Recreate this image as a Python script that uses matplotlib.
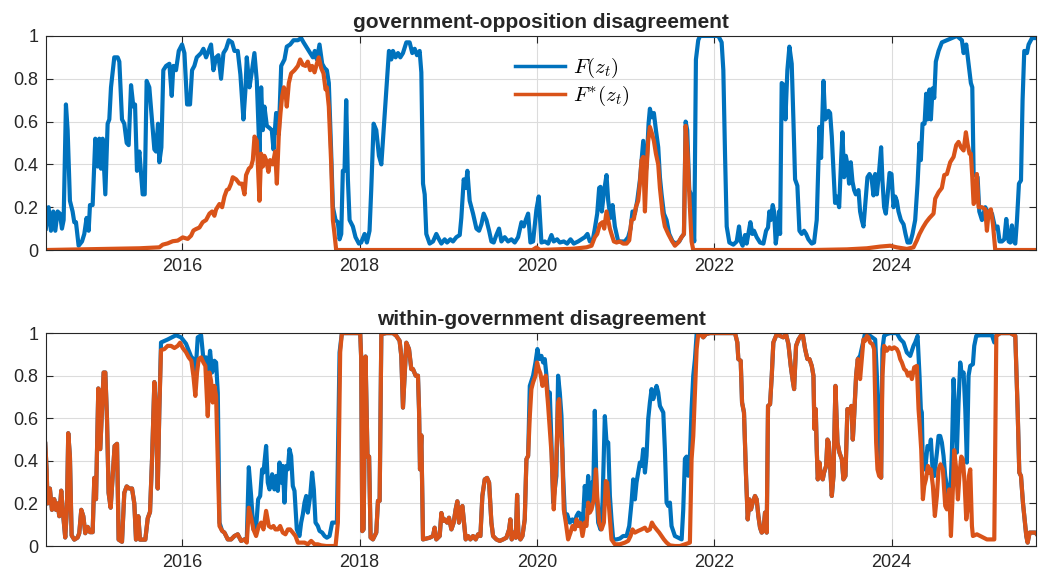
import numpy as np
import matplotlib
matplotlib.use("Agg")
import matplotlib.pyplot as plt

# === (decimal year, value) pairs

# government-opposition disagreement, F(z_t)
gov_opp_f = np.array([
    (2014.464, 0.10), (2014.494, 0.20), (2014.521, 0.09), (2014.547, 0.18), (2014.570, 0.09),
    (2014.596, 0.18), (2014.622, 0.17), (2014.645, 0.10), (2014.664, 0.14), (2014.690, 0.68),
    (2014.709, 0.56), (2014.735, 0.23), (2014.765, 0.18), (2014.784, 0.13), (2014.803, 0.13),
    (2014.833, 0.02), (2014.871, 0.04), (2014.897, 0.075), (2014.923, 0.15), (2014.946, 0.09),
    (2014.961, 0.21), (2014.991, 0.21), (2015.021, 0.52), (2015.047, 0.39), (2015.066, 0.52),
    (2015.085, 0.38), (2015.104, 0.52), (2015.134, 0.26), (2015.160, 0.59), (2015.179, 0.61),
    (2015.198, 0.76), (2015.235, 0.90), (2015.273, 0.90), (2015.292, 0.88), (2015.322, 0.61),
    (2015.348, 0.59), (2015.375, 0.50), (2015.397, 0.49), (2015.424, 0.77), (2015.450, 0.67),
    (2015.469, 0.68), (2015.491, 0.37), (2015.518, 0.46), (2015.536, 0.36), (2015.555, 0.26),
    (2015.578, 0.26), (2015.600, 0.79), (2015.630, 0.76), (2015.657, 0.62), (2015.687, 0.47),
    (2015.706, 0.46), (2015.728, 0.59), (2015.743, 0.41), (2015.766, 0.48), (2015.788, 0.84),
    (2015.819, 0.86), (2015.856, 0.87), (2015.883, 0.72), (2015.901, 0.86), (2015.931, 0.84),
    (2015.962, 0.93), (2015.999, 0.96), (2016.026, 0.92), (2016.056, 0.68), (2016.089, 0.68),
    (2016.112, 0.84), (2016.138, 0.86), (2016.165, 0.90), (2016.214, 0.92), (2016.240, 0.94),
    (2016.270, 0.90), (2016.289, 0.92), (2016.326, 0.96), (2016.353, 0.84), (2016.383, 0.90),
    (2016.409, 0.91), (2016.439, 0.80), (2016.466, 0.92), (2016.496, 0.94), (2016.526, 0.98),
    (2016.563, 0.97), (2016.590, 0.93), (2016.627, 0.93), (2016.657, 0.82), (2016.691, 0.61),
    (2016.714, 0.75), (2016.729, 0.90), (2016.759, 0.76), (2016.785, 0.83), (2016.815, 0.92),
    (2016.842, 0.79), (2016.872, 0.45), (2016.891, 0.76), (2016.910, 0.56), (2016.928, 0.67),
    (2016.955, 0.58), (2016.985, 0.57), (2017.011, 0.56), (2017.030, 0.47), (2017.060, 0.64),
    (2017.090, 0.54), (2017.117, 0.86), (2017.154, 0.89), (2017.180, 0.95), (2017.218, 0.96),
    (2017.256, 0.98), (2017.305, 0.98), (2017.342, 0.99), (2017.369, 0.97), (2017.399, 0.95),
    (2017.444, 0.92), (2017.474, 0.90), (2017.496, 0.93), (2017.519, 0.89), (2017.549, 0.96),
    (2017.579, 0.87), (2017.606, 0.85), (2017.632, 0.84), (2017.654, 0.78), (2017.681, 0.45),
    (2017.700, 0.20), (2017.730, 0.14), (2017.756, 0.13), (2017.775, 0.05), (2017.794, 0.075),
    (2017.812, 0.37), (2017.831, 0.37), (2017.850, 0.70), (2017.869, 0.33), (2017.888, 0.14),
    (2017.925, 0.11), (2017.955, 0.06), (2017.993, 0.03), (2018.019, 0.035), (2018.057, 0.075),
    (2018.083, 0.035), (2018.113, 0.09), (2018.132, 0.28), (2018.159, 0.59), (2018.189, 0.56),
    (2018.219, 0.44), (2018.246, 0.40), (2018.272, 0.56), (2018.302, 0.75), (2018.332, 0.93),
    (2018.358, 0.89), (2018.377, 0.93), (2018.407, 0.90), (2018.434, 0.92), (2018.460, 0.90),
    (2018.490, 0.92), (2018.528, 0.97), (2018.565, 0.97), (2018.595, 0.92), (2018.622, 0.94),
    (2018.648, 0.91), (2018.678, 0.93), (2018.697, 0.83), (2018.716, 0.31), (2018.735, 0.26),
    (2018.753, 0.075), (2018.791, 0.03), (2018.829, 0.04), (2018.866, 0.075), (2018.896, 0.05),
    (2018.923, 0.03), (2018.960, 0.05), (2018.987, 0.035), (2019.024, 0.05), (2019.054, 0.04),
    (2019.092, 0.06), (2019.130, 0.07), (2019.148, 0.15), (2019.175, 0.33), (2019.197, 0.29),
    (2019.216, 0.37), (2019.242, 0.23), (2019.280, 0.17), (2019.318, 0.10), (2019.348, 0.09),
    (2019.374, 0.12), (2019.400, 0.17), (2019.431, 0.14), (2019.461, 0.09), (2019.487, 0.04),
    (2019.513, 0.035), (2019.543, 0.07), (2019.573, 0.10), (2019.600, 0.04), (2019.637, 0.06),
    (2019.675, 0.04), (2019.713, 0.05), (2019.750, 0.035), (2019.788, 0.06), (2019.826, 0.13),
    (2019.852, 0.11), (2019.874, 0.14), (2019.901, 0.17), (2019.927, 0.035), (2019.957, 0.04),
    (2019.995, 0.19), (2020.021, 0.25), (2020.051, 0.035), (2020.089, 0.04), (2020.127, 0.03),
    (2020.164, 0.07), (2020.190, 0.04), (2020.228, 0.05), (2020.258, 0.035), (2020.303, 0.04),
    (2020.341, 0.03), (2020.379, 0.05), (2020.416, 0.03), (2020.465, 0.04), (2020.503, 0.05),
    (2020.540, 0.06), (2020.570, 0.075), (2020.597, 0.04), (2020.627, 0.04), (2020.653, 0.10),
    (2020.680, 0.17), (2020.702, 0.29), (2020.717, 0.295), (2020.732, 0.18), (2020.759, 0.28),
    (2020.785, 0.35), (2020.804, 0.23), (2020.830, 0.15), (2020.853, 0.21), (2020.879, 0.11),
    (2020.917, 0.04), (2020.954, 0.04), (2020.992, 0.04), (2021.029, 0.06), (2021.056, 0.10),
    (2021.078, 0.18), (2021.105, 0.17), (2021.131, 0.23), (2021.161, 0.325), (2021.180, 0.42),
    (2021.199, 0.51), (2021.218, 0.34), (2021.236, 0.39), (2021.259, 0.59), (2021.274, 0.66),
    (2021.297, 0.62), (2021.319, 0.64), (2021.342, 0.56), (2021.368, 0.48), (2021.387, 0.34),
    (2021.406, 0.26), (2021.432, 0.17), (2021.462, 0.14), (2021.492, 0.075), (2021.530, 0.04),
    (2021.567, 0.03), (2021.605, 0.04), (2021.631, 0.06), (2021.658, 0.075), (2021.677, 0.60),
    (2021.695, 0.56), (2021.718, 0.28), (2021.737, 0.26), (2021.755, 0.12), (2021.774, 0.04),
    (2021.793, 0.89), (2021.819, 0.98), (2021.839, 1.00), (2021.914, 1.00), (2021.989, 1.00),
    (2022.046, 1.00), (2022.083, 0.97), (2022.102, 0.84), (2022.121, 0.45), (2022.140, 0.11),
    (2022.170, 0.035), (2022.215, 0.025), (2022.253, 0.04), (2022.279, 0.11), (2022.298, 0.04),
    (2022.320, 0.02), (2022.347, 0.07), (2022.365, 0.03), (2022.384, 0.075), (2022.407, 0.13),
    (2022.429, 0.075), (2022.448, 0.09), (2022.478, 0.06), (2022.516, 0.035), (2022.554, 0.03),
    (2022.584, 0.09), (2022.606, 0.105), (2022.621, 0.18), (2022.636, 0.14), (2022.659, 0.21),
    (2022.674, 0.18), (2022.693, 0.03), (2022.711, 0.09), (2022.730, 0.18), (2022.742, 0.075),
    (2022.760, 0.78), (2022.787, 0.77), (2022.802, 0.61), (2022.824, 0.84), (2022.847, 0.95),
    (2022.873, 0.87), (2022.892, 0.61), (2022.911, 0.33), (2022.937, 0.30), (2022.960, 0.09),
    (2022.986, 0.075), (2023.012, 0.09), (2023.035, 0.075), (2023.061, 0.05), (2023.099, 0.03),
    (2023.125, 0.035), (2023.155, 0.14), (2023.186, 0.575), (2023.204, 0.43), (2023.231, 0.79),
    (2023.250, 0.61), (2023.268, 0.62), (2023.287, 0.65), (2023.306, 0.64), (2023.325, 0.53),
    (2023.344, 0.37), (2023.362, 0.22), (2023.381, 0.25), (2023.408, 0.20), (2023.430, 0.42),
    (2023.445, 0.55), (2023.464, 0.34), (2023.483, 0.44), (2023.501, 0.40), (2023.520, 0.31),
    (2023.539, 0.41), (2023.558, 0.32), (2023.577, 0.28), (2023.596, 0.26), (2023.626, 0.28),
    (2023.644, 0.18), (2023.663, 0.14), (2023.682, 0.11), (2023.705, 0.23), (2023.727, 0.34),
    (2023.750, 0.355), (2023.772, 0.34), (2023.795, 0.255), (2023.814, 0.355), (2023.833, 0.26),
    (2023.859, 0.37), (2023.881, 0.48), (2023.896, 0.325), (2023.915, 0.20), (2023.934, 0.17),
    (2023.953, 0.25), (2023.976, 0.36), (2023.998, 0.355), (2024.021, 0.20), (2024.040, 0.25),
    (2024.058, 0.23), (2024.077, 0.18), (2024.104, 0.14), (2024.134, 0.12), (2024.156, 0.075),
    (2024.179, 0.035), (2024.209, 0.035), (2024.235, 0.075), (2024.265, 0.14), (2024.292, 0.31),
    (2024.314, 0.50), (2024.329, 0.42), (2024.348, 0.59), (2024.371, 0.59), (2024.389, 0.73),
    (2024.404, 0.61), (2024.427, 0.75), (2024.442, 0.61), (2024.461, 0.755), (2024.480, 0.71),
    (2024.498, 0.88), (2024.529, 0.93), (2024.566, 0.97), (2024.623, 0.98), (2024.679, 0.99),
    (2024.735, 1.00), (2024.792, 0.98), (2024.811, 0.92), (2024.841, 0.96), (2024.867, 0.87),
    (2024.893, 0.78), (2024.909, 0.76), (2024.924, 0.355), (2024.942, 0.35), (2024.969, 0.34),
    (2024.988, 0.18), (2025.018, 0.14), (2025.055, 0.20), (2025.093, 0.17), (2025.131, 0.17),
    (2025.168, 0.10), (2025.194, 0.11), (2025.217, 0.04), (2025.243, 0.04), (2025.270, 0.05),
    (2025.292, 0.145), (2025.319, 0.04), (2025.337, 0.035), (2025.356, 0.115), (2025.375, 0.04),
    (2025.394, 0.03), (2025.413, 0.14), (2025.435, 0.31), (2025.458, 0.325), (2025.476, 0.70),
    (2025.495, 0.93), (2025.525, 0.92), (2025.544, 0.96), (2025.582, 0.99), (2025.653, 0.99),
])

# government-opposition disagreement, F*(z_t)
gov_opp_fstar = np.array([
    (2014.464, 0.0), (2015.518, 0.008), (2015.743, 0.0125), (2015.781, 0.025), (2015.837, 0.031),
    (2015.894, 0.041), (2015.950, 0.044), (2016.007, 0.059), (2016.063, 0.052), (2016.101, 0.067),
    (2016.127, 0.091), (2016.157, 0.098), (2016.195, 0.105), (2016.232, 0.13), (2016.270, 0.14),
    (2016.308, 0.17), (2016.338, 0.18), (2016.364, 0.16), (2016.383, 0.19), (2016.421, 0.215),
    (2016.451, 0.20), (2016.477, 0.25), (2016.503, 0.28), (2016.526, 0.285), (2016.552, 0.31),
    (2016.571, 0.34), (2016.609, 0.33), (2016.646, 0.31), (2016.676, 0.31), (2016.703, 0.26),
    (2016.721, 0.35), (2016.752, 0.38), (2016.778, 0.39), (2016.797, 0.42), (2016.816, 0.53),
    (2016.842, 0.51), (2016.857, 0.37), (2016.872, 0.23), (2016.891, 0.45), (2016.910, 0.39),
    (2016.928, 0.44), (2016.947, 0.42), (2016.973, 0.365), (2016.992, 0.42), (2017.022, 0.40),
    (2017.049, 0.46), (2017.068, 0.31), (2017.090, 0.54), (2017.109, 0.64), (2017.128, 0.72),
    (2017.147, 0.76), (2017.165, 0.74), (2017.180, 0.67), (2017.203, 0.78), (2017.229, 0.825),
    (2017.267, 0.84), (2017.305, 0.86), (2017.331, 0.89), (2017.361, 0.865), (2017.391, 0.86),
    (2017.417, 0.88), (2017.444, 0.84), (2017.466, 0.86), (2017.493, 0.83), (2017.519, 0.87),
    (2017.541, 0.90), (2017.568, 0.85), (2017.594, 0.825), (2017.617, 0.75), (2017.632, 0.76),
    (2017.654, 0.67), (2017.681, 0.40), (2017.700, 0.14), (2017.718, 0.075), (2017.737, 0.0),
    (2019.950, 0.0), (2019.995, 0.012), (2020.033, 0.0), (2020.409, 0.006), (2020.559, 0.0125),
    (2020.616, 0.02), (2020.653, 0.06), (2020.680, 0.075), (2020.710, 0.12), (2020.740, 0.13),
    (2020.759, 0.10), (2020.785, 0.18), (2020.804, 0.14), (2020.823, 0.10), (2020.841, 0.075),
    (2020.868, 0.04), (2020.898, 0.035), (2020.935, 0.04), (2020.973, 0.03), (2021.011, 0.03),
    (2021.041, 0.045), (2021.067, 0.14), (2021.093, 0.145), (2021.116, 0.20), (2021.142, 0.23),
    (2021.161, 0.31), (2021.180, 0.42), (2021.199, 0.435), (2021.218, 0.18), (2021.236, 0.37),
    (2021.255, 0.51), (2021.274, 0.575), (2021.297, 0.545), (2021.319, 0.51), (2021.342, 0.45),
    (2021.368, 0.40), (2021.387, 0.29), (2021.417, 0.17), (2021.443, 0.11), (2021.481, 0.075),
    (2021.519, 0.045), (2021.556, 0.02), (2021.594, 0.035), (2021.631, 0.06), (2021.658, 0.075),
    (2021.677, 0.58), (2021.699, 0.45), (2021.718, 0.26), (2021.744, 0.04), (2021.763, 0.0),
    (2023.118, 0.0), (2023.494, 0.003), (2023.720, 0.008), (2023.870, 0.016), (2023.983, 0.02),
    (2024.058, 0.0125), (2024.171, 0.005), (2024.246, 0.0125), (2024.284, 0.045), (2024.314, 0.075),
    (2024.352, 0.105), (2024.389, 0.13), (2024.427, 0.15), (2024.472, 0.17), (2024.491, 0.24),
    (2024.529, 0.27), (2024.566, 0.29), (2024.593, 0.35), (2024.623, 0.355), (2024.660, 0.41),
    (2024.698, 0.435), (2024.728, 0.49), (2024.754, 0.505), (2024.781, 0.48), (2024.811, 0.465),
    (2024.837, 0.55), (2024.856, 0.495), (2024.878, 0.45), (2024.893, 0.45), (2024.909, 0.34),
    (2024.924, 0.215), (2024.942, 0.23), (2024.961, 0.355), (2024.980, 0.20), (2025.018, 0.20),
    (2025.055, 0.19), (2025.074, 0.09), (2025.093, 0.177), (2025.119, 0.19), (2025.142, 0.12),
    (2025.168, 0.0), (2025.653, 0.0),
])

# within-government disagreement, F*(z_t)
within_gov_fstar = np.array([
    (2014.457, 0.48), (2014.472, 0.36), (2014.483, 0.20), (2014.509, 0.27), (2014.532, 0.17),
    (2014.558, 0.22), (2014.577, 0.17), (2014.596, 0.20), (2014.615, 0.14), (2014.637, 0.26),
    (2014.660, 0.14), (2014.682, 0.04), (2014.701, 0.17), (2014.716, 0.53), (2014.735, 0.42),
    (2014.754, 0.05), (2014.784, 0.03), (2014.822, 0.04), (2014.840, 0.06), (2014.863, 0.17),
    (2014.886, 0.14), (2014.908, 0.06), (2014.935, 0.09), (2014.961, 0.065), (2014.991, 0.065),
    (2015.010, 0.32), (2015.029, 0.22), (2015.055, 0.74), (2015.077, 0.455), (2015.096, 0.64),
    (2015.115, 0.815), (2015.134, 0.815), (2015.153, 0.596), (2015.171, 0.25), (2015.194, 0.18),
    (2015.217, 0.33), (2015.239, 0.47), (2015.266, 0.48), (2015.284, 0.03), (2015.322, 0.02),
    (2015.348, 0.25), (2015.375, 0.28), (2015.405, 0.27), (2015.435, 0.27), (2015.461, 0.20),
    (2015.480, 0.03), (2015.506, 0.14), (2015.525, 0.03), (2015.555, 0.03), (2015.585, 0.03),
    (2015.612, 0.13), (2015.638, 0.16), (2015.661, 0.41), (2015.687, 0.77), (2015.706, 0.64),
    (2015.725, 0.27), (2015.743, 0.64), (2015.762, 0.92), (2015.800, 0.925), (2015.837, 0.94),
    (2015.875, 0.94), (2015.913, 0.93), (2015.950, 0.94), (2015.977, 0.955), (2016.007, 0.93),
    (2016.044, 0.91), (2016.074, 0.886), (2016.104, 0.87), (2016.127, 0.80), (2016.149, 0.705),
    (2016.168, 0.815), (2016.187, 0.878), (2016.214, 0.886), (2016.240, 0.862), (2016.262, 0.846),
    (2016.289, 0.61), (2016.308, 0.815), (2016.326, 0.776), (2016.345, 0.674), (2016.364, 0.752),
    (2016.383, 0.705), (2016.402, 0.408), (2016.421, 0.094), (2016.451, 0.071), (2016.477, 0.063),
    (2016.515, 0.031), (2016.552, 0.031), (2016.590, 0.047), (2016.627, 0.055), (2016.665, 0.024),
    (2016.703, 0.031), (2016.729, 0.016), (2016.752, 0.18), (2016.778, 0.133), (2016.804, 0.078),
    (2016.834, 0.047), (2016.864, 0.094), (2016.891, 0.11), (2016.917, 0.078), (2016.947, 0.165),
    (2016.977, 0.094), (2017.004, 0.086), (2017.030, 0.094), (2017.052, 0.078), (2017.079, 0.078),
    (2017.105, 0.094), (2017.135, 0.063), (2017.165, 0.055), (2017.192, 0.078), (2017.218, 0.078),
    (2017.248, 0.063), (2017.278, 0.047), (2017.305, 0.016), (2017.342, 0.016), (2017.380, 0.016),
    (2017.417, 0.008), (2017.455, 0.024), (2017.493, 0.008), (2017.530, 0.008), (2017.568, 0.003),
    (2017.624, 0.0), (2017.681, 0.0), (2017.730, 0.0), (2017.756, 0.11), (2017.782, 0.91),
    (2017.801, 1.0), (2017.850, 1.0), (2017.925, 1.0), (2018.008, 1.0), (2018.019, 0.88),
    (2018.031, 0.07), (2018.046, 0.078), (2018.068, 0.89), (2018.090, 0.42), (2018.108, 0.42),
    (2018.125, 0.04), (2018.151, 0.031), (2018.189, 0.063), (2018.208, 0.212), (2018.227, 0.212),
    (2018.246, 0.995), (2018.302, 1.0), (2018.377, 1.0), (2018.415, 0.987), (2018.452, 0.964),
    (2018.471, 0.893), (2018.490, 0.65), (2018.509, 0.80), (2018.528, 0.955), (2018.558, 0.925),
    (2018.584, 0.831), (2018.603, 0.831), (2018.633, 0.80), (2018.659, 0.80), (2018.671, 0.643),
    (2018.682, 0.36), (2018.697, 0.52), (2018.716, 0.031), (2018.753, 0.035), (2018.791, 0.039),
    (2018.829, 0.047), (2018.847, 0.086), (2018.866, 0.031), (2018.904, 0.047), (2018.923, 0.155),
    (2018.942, 0.118), (2018.960, 0.125), (2018.987, 0.11), (2019.009, 0.133), (2019.036, 0.078),
    (2019.062, 0.11), (2019.084, 0.172), (2019.103, 0.21), (2019.122, 0.11), (2019.141, 0.172),
    (2019.160, 0.188), (2019.175, 0.125), (2019.197, 0.031), (2019.224, 0.047), (2019.250, 0.031),
    (2019.280, 0.047), (2019.310, 0.031), (2019.337, 0.055), (2019.363, 0.047), (2019.385, 0.235),
    (2019.412, 0.313), (2019.438, 0.32), (2019.461, 0.298), (2019.487, 0.11), (2019.506, 0.047),
    (2019.543, 0.031), (2019.581, 0.024), (2019.619, 0.031), (2019.656, 0.039), (2019.687, 0.078),
    (2019.701, 0.125), (2019.716, 0.031), (2019.739, 0.063), (2019.762, 0.039), (2019.777, 0.24),
    (2019.792, 0.047), (2019.814, 0.031), (2019.837, 0.047), (2019.863, 0.125), (2019.882, 0.408),
    (2019.901, 0.423), (2019.920, 0.61), (2019.938, 0.737), (2019.957, 0.768), (2019.984, 0.80),
    (2020.002, 0.862), (2020.021, 0.831), (2020.040, 0.81), (2020.063, 0.752), (2020.081, 0.784),
    (2020.100, 0.80), (2020.127, 0.658), (2020.145, 0.549), (2020.164, 0.439), (2020.190, 0.172),
    (2020.213, 0.345), (2020.239, 0.674), (2020.251, 0.69), (2020.266, 0.549), (2020.285, 0.455),
    (2020.303, 0.172), (2020.326, 0.11), (2020.352, 0.031), (2020.379, 0.063), (2020.401, 0.094),
    (2020.428, 0.078), (2020.447, 0.125), (2020.469, 0.094), (2020.491, 0.11), (2020.514, 0.047),
    (2020.540, 0.11), (2020.559, 0.094), (2020.578, 0.204), (2020.597, 0.157), (2020.616, 0.172),
    (2020.642, 0.219), (2020.665, 0.36), (2020.680, 0.235), (2020.702, 0.11), (2020.729, 0.078),
    (2020.755, 0.11), (2020.777, 0.305), (2020.792, 0.298), (2020.815, 0.172), (2020.841, 0.031),
    (2020.879, 0.008), (2020.935, 0.008), (2020.992, 0.016), (2021.029, 0.024), (2021.056, 0.047),
    (2021.078, 0.078), (2021.105, 0.063), (2021.142, 0.071), (2021.180, 0.078), (2021.218, 0.086),
    (2021.244, 0.071), (2021.274, 0.078), (2021.297, 0.11), (2021.319, 0.094), (2021.349, 0.078),
    (2021.379, 0.063), (2021.406, 0.047), (2021.432, 0.031), (2021.462, 0.016), (2021.500, 0.003),
    (2021.556, 0.0), (2021.613, 0.0), (2021.669, 0.008), (2021.725, 0.016), (2021.744, 0.408),
    (2021.763, 0.517), (2021.782, 0.721), (2021.801, 0.925), (2021.819, 0.995), (2021.846, 0.995),
    (2021.876, 0.98), (2021.906, 0.995), (2021.952, 1.0), (2022.008, 1.0), (2022.064, 1.0),
    (2022.121, 1.0), (2022.177, 1.0), (2022.234, 1.0), (2022.260, 0.956), (2022.271, 0.878),
    (2022.298, 0.87), (2022.313, 0.674), (2022.335, 0.627), (2022.358, 0.329), (2022.377, 0.125),
    (2022.396, 0.219), (2022.414, 0.172), (2022.433, 0.204), (2022.459, 0.235), (2022.478, 0.219),
    (2022.497, 0.141), (2022.516, 0.086), (2022.535, 0.063), (2022.554, 0.071), (2022.572, 0.157),
    (2022.591, 0.063), (2022.606, 0.658), (2022.629, 0.666), (2022.648, 0.80), (2022.666, 0.956),
    (2022.704, 0.995), (2022.742, 0.987), (2022.779, 0.98), (2022.809, 0.995), (2022.836, 0.948),
    (2022.862, 0.846), (2022.885, 0.776), (2022.900, 0.737), (2022.922, 0.94), (2022.949, 0.97),
    (2022.975, 0.987), (2022.997, 0.995), (2023.024, 0.925), (2023.050, 0.878), (2023.073, 0.878),
    (2023.099, 0.846), (2023.118, 0.80), (2023.129, 0.55), (2023.144, 0.643), (2023.155, 0.455),
    (2023.167, 0.313), (2023.186, 0.392), (2023.201, 0.329), (2023.223, 0.313), (2023.238, 0.345),
    (2023.261, 0.376), (2023.276, 0.50), (2023.291, 0.486), (2023.306, 0.376), (2023.325, 0.235),
    (2023.344, 0.329), (2023.366, 0.752), (2023.389, 0.486), (2023.411, 0.439), (2023.438, 0.408),
    (2023.456, 0.313), (2023.479, 0.329), (2023.501, 0.643), (2023.524, 0.627), (2023.546, 0.658),
    (2023.562, 0.50), (2023.577, 0.611), (2023.599, 0.80), (2023.618, 0.878), (2023.644, 0.784),
    (2023.663, 0.878), (2023.682, 0.97), (2023.701, 0.964), (2023.720, 0.987), (2023.739, 0.98),
    (2023.757, 0.956), (2023.784, 0.948), (2023.802, 0.925), (2023.825, 0.486), (2023.840, 0.36),
    (2023.859, 0.329), (2023.881, 0.321), (2023.896, 0.80), (2023.915, 0.94), (2023.945, 0.917),
    (2023.975, 0.933), (2024.002, 0.925), (2024.028, 0.933), (2024.058, 0.925), (2024.077, 0.909),
    (2024.096, 0.878), (2024.115, 0.862), (2024.141, 0.831), (2024.164, 0.823), (2024.183, 0.80),
    (2024.209, 0.815), (2024.228, 0.784), (2024.254, 0.839), (2024.284, 0.846), (2024.303, 0.643),
    (2024.314, 0.58), (2024.333, 0.455), (2024.352, 0.22), (2024.367, 0.282), (2024.386, 0.313),
    (2024.409, 0.376), (2024.427, 0.345), (2024.442, 0.36), (2024.465, 0.282), (2024.487, 0.141),
    (2024.510, 0.235), (2024.529, 0.36), (2024.551, 0.384), (2024.577, 0.36), (2024.604, 0.188),
    (2024.623, 0.172), (2024.649, 0.266), (2024.668, 0.047), (2024.690, 0.266), (2024.705, 0.45),
    (2024.728, 0.36), (2024.747, 0.219), (2024.766, 0.345), (2024.785, 0.42), (2024.803, 0.408),
    (2024.822, 0.298), (2024.841, 0.125), (2024.856, 0.172), (2024.871, 0.329), (2024.886, 0.36),
    (2024.905, 0.094), (2024.916, 0.047), (2024.961, 0.055), (2024.999, 0.047), (2025.036, 0.039),
    (2025.074, 0.031), (2025.131, 0.031), (2025.157, 0.031), (2025.180, 0.987), (2025.225, 1.0),
    (2025.281, 1.0), (2025.337, 1.0), (2025.394, 0.987), (2025.420, 0.643), (2025.439, 0.345),
    (2025.458, 0.329), (2025.480, 0.204), (2025.499, 0.125), (2025.518, 0.047), (2025.533, 0.016),
    (2025.556, 0.063), (2025.582, 0.063), (2025.620, 0.063), (2025.653, 0.047),
])

# within-government disagreement, F(z_t)
within_gov_f = np.array([
    (2014.457, 0.48), (2014.472, 0.36), (2014.483, 0.20), (2014.509, 0.27), (2014.532, 0.17),
    (2014.558, 0.22), (2014.577, 0.17), (2014.596, 0.20), (2014.615, 0.14), (2014.637, 0.26),
    (2014.660, 0.14), (2014.682, 0.04), (2014.701, 0.17), (2014.716, 0.53), (2014.735, 0.42),
    (2014.754, 0.05), (2014.784, 0.03), (2014.822, 0.04), (2014.840, 0.06), (2014.863, 0.17),
    (2014.886, 0.14), (2014.908, 0.06), (2014.935, 0.09), (2014.961, 0.065), (2014.991, 0.065),
    (2015.010, 0.32), (2015.029, 0.22), (2015.055, 0.74), (2015.077, 0.455), (2015.096, 0.64),
    (2015.115, 0.815), (2015.134, 0.815), (2015.153, 0.596), (2015.171, 0.25), (2015.194, 0.18),
    (2015.217, 0.33), (2015.239, 0.47), (2015.266, 0.48), (2015.284, 0.03), (2015.322, 0.02),
    (2015.348, 0.25), (2015.375, 0.28), (2015.405, 0.27), (2015.435, 0.27), (2015.461, 0.20),
    (2015.480, 0.03), (2015.506, 0.14), (2015.525, 0.03), (2015.555, 0.03), (2015.585, 0.03),
    (2015.612, 0.13), (2015.638, 0.16), (2015.661, 0.41), (2015.687, 0.77), (2015.706, 0.64),
    (2015.725, 0.27), (2015.743, 0.64), (2015.762, 0.956), (2015.837, 0.97), (2015.931, 0.99),
    (2015.988, 0.98), (2016.044, 0.95), (2016.101, 0.89), (2016.127, 0.878), (2016.149, 0.80),
    (2016.176, 0.98), (2016.214, 0.99), (2016.240, 0.878), (2016.270, 0.886), (2016.289, 0.80),
    (2016.315, 0.917), (2016.338, 0.815), (2016.364, 0.87), (2016.383, 0.862), (2016.402, 0.72),
    (2016.421, 0.11), (2016.451, 0.071), (2016.477, 0.063), (2016.515, 0.031), (2016.552, 0.031),
    (2016.590, 0.047), (2016.627, 0.055), (2016.665, 0.024), (2016.703, 0.031), (2016.729, 0.031),
    (2016.752, 0.37), (2016.778, 0.235), (2016.804, 0.078), (2016.834, 0.086), (2016.857, 0.219),
    (2016.880, 0.235), (2016.902, 0.36), (2016.917, 0.345), (2016.947, 0.47), (2016.966, 0.298),
    (2016.985, 0.266), (2017.015, 0.337), (2017.041, 0.266), (2017.060, 0.329), (2017.079, 0.259),
    (2017.098, 0.392), (2017.117, 0.298), (2017.135, 0.376), (2017.154, 0.204), (2017.173, 0.376),
    (2017.192, 0.36), (2017.210, 0.455), (2017.229, 0.423), (2017.248, 0.282), (2017.267, 0.259),
    (2017.293, 0.078), (2017.323, 0.047), (2017.342, 0.11), (2017.361, 0.149), (2017.380, 0.204),
    (2017.399, 0.235), (2017.417, 0.157), (2017.444, 0.235), (2017.466, 0.345), (2017.485, 0.266),
    (2017.504, 0.11), (2017.530, 0.094), (2017.549, 0.071), (2017.579, 0.063), (2017.606, 0.047),
    (2017.632, 0.039), (2017.662, 0.047), (2017.692, 0.11), (2017.718, 0.11), (2017.745, 0.11),
    (2017.775, 0.909), (2017.801, 1.0), (2017.850, 1.0), (2017.925, 1.0), (2018.008, 1.0),
    (2018.019, 0.88), (2018.031, 0.07), (2018.046, 0.078), (2018.068, 0.89), (2018.090, 0.42),
    (2018.108, 0.42), (2018.125, 0.04), (2018.151, 0.031), (2018.189, 0.063), (2018.208, 0.212),
    (2018.227, 0.212), (2018.246, 0.995), (2018.302, 1.0), (2018.377, 1.0), (2018.415, 0.987),
    (2018.452, 0.964), (2018.471, 0.893), (2018.490, 0.65), (2018.509, 0.80), (2018.528, 0.955),
    (2018.558, 0.925), (2018.584, 0.831), (2018.603, 0.831), (2018.633, 0.80), (2018.659, 0.80),
    (2018.671, 0.643), (2018.682, 0.36), (2018.697, 0.52), (2018.716, 0.031), (2018.753, 0.035),
    (2018.791, 0.039), (2018.829, 0.047), (2018.847, 0.086), (2018.866, 0.031), (2018.904, 0.047),
    (2018.923, 0.155), (2018.942, 0.118), (2018.960, 0.125), (2018.987, 0.11), (2019.009, 0.133),
    (2019.036, 0.078), (2019.062, 0.11), (2019.084, 0.172), (2019.103, 0.21), (2019.122, 0.11),
    (2019.141, 0.172), (2019.160, 0.188), (2019.175, 0.125), (2019.197, 0.031), (2019.224, 0.047),
    (2019.250, 0.031), (2019.280, 0.047), (2019.310, 0.031), (2019.337, 0.055), (2019.363, 0.047),
    (2019.385, 0.235), (2019.412, 0.313), (2019.438, 0.32), (2019.461, 0.298), (2019.487, 0.11),
    (2019.506, 0.047), (2019.543, 0.031), (2019.581, 0.024), (2019.619, 0.031), (2019.656, 0.039),
    (2019.687, 0.078), (2019.701, 0.125), (2019.716, 0.031), (2019.739, 0.063), (2019.762, 0.039),
    (2019.777, 0.24), (2019.792, 0.047), (2019.814, 0.031), (2019.837, 0.047), (2019.863, 0.125),
    (2019.882, 0.408), (2019.901, 0.423), (2019.920, 0.752), (2019.957, 0.80), (2019.984, 0.862),
    (2020.006, 0.925), (2020.025, 0.878), (2020.051, 0.893), (2020.070, 0.862), (2020.089, 0.878),
    (2020.108, 0.80), (2020.127, 0.69), (2020.145, 0.721), (2020.164, 0.486), (2020.183, 0.204),
    (2020.220, 0.329), (2020.239, 0.80), (2020.258, 0.721), (2020.277, 0.611), (2020.296, 0.329),
    (2020.315, 0.149), (2020.341, 0.149), (2020.371, 0.11), (2020.401, 0.125), (2020.428, 0.11),
    (2020.447, 0.141), (2020.469, 0.157), (2020.491, 0.149), (2020.514, 0.078), (2020.540, 0.282),
    (2020.559, 0.188), (2020.578, 0.329), (2020.597, 0.204), (2020.616, 0.298), (2020.634, 0.235),
    (2020.653, 0.635), (2020.672, 0.266), (2020.691, 0.11), (2020.717, 0.078), (2020.740, 0.204),
    (2020.766, 0.61), (2020.785, 0.486), (2020.804, 0.486), (2020.823, 0.235), (2020.841, 0.125),
    (2020.860, 0.031), (2020.898, 0.031), (2020.935, 0.035), (2020.973, 0.047), (2021.011, 0.047),
    (2021.041, 0.094), (2021.067, 0.204), (2021.086, 0.313), (2021.105, 0.219), (2021.123, 0.298),
    (2021.142, 0.345), (2021.161, 0.392), (2021.180, 0.376), (2021.199, 0.455), (2021.218, 0.345),
    (2021.236, 0.423), (2021.255, 0.596), (2021.274, 0.674), (2021.293, 0.737), (2021.312, 0.69),
    (2021.330, 0.721), (2021.349, 0.752), (2021.368, 0.721), (2021.387, 0.658), (2021.406, 0.643),
    (2021.425, 0.627), (2021.443, 0.455), (2021.462, 0.204), (2021.481, 0.188), (2021.500, 0.204),
    (2021.518, 0.094), (2021.556, 0.047), (2021.594, 0.039), (2021.632, 0.031), (2021.650, 0.17),
    (2021.669, 0.41), (2021.688, 0.42), (2021.707, 0.33), (2021.725, 0.41), (2021.744, 0.643),
    (2021.763, 0.80), (2021.782, 0.878), (2021.801, 0.995), (2021.846, 0.995), (2021.876, 0.98),
    (2021.906, 0.995), (2021.952, 1.0), (2022.008, 1.0), (2022.064, 1.0), (2022.121, 1.0),
    (2022.177, 1.0), (2022.234, 1.0), (2022.260, 0.956), (2022.271, 0.878), (2022.298, 0.87),
    (2022.313, 0.674), (2022.335, 0.627), (2022.358, 0.329), (2022.377, 0.125), (2022.396, 0.219),
    (2022.414, 0.172), (2022.433, 0.204), (2022.459, 0.235), (2022.478, 0.219), (2022.497, 0.141),
    (2022.516, 0.086), (2022.535, 0.063), (2022.554, 0.071), (2022.572, 0.157), (2022.591, 0.063),
    (2022.606, 0.658), (2022.629, 0.666), (2022.648, 0.80), (2022.666, 0.956), (2022.704, 0.995),
    (2022.742, 0.987), (2022.779, 0.98), (2022.809, 0.995), (2022.836, 0.948), (2022.862, 0.846),
    (2022.885, 0.776), (2022.900, 0.737), (2022.922, 0.94), (2022.949, 0.97), (2022.975, 0.987),
    (2022.997, 0.995), (2023.024, 0.925), (2023.050, 0.878), (2023.073, 0.878), (2023.099, 0.846),
    (2023.118, 0.80), (2023.129, 0.55), (2023.144, 0.643), (2023.155, 0.455), (2023.167, 0.313),
    (2023.186, 0.392), (2023.201, 0.329), (2023.223, 0.313), (2023.238, 0.345), (2023.261, 0.376),
    (2023.276, 0.50), (2023.291, 0.486), (2023.306, 0.376), (2023.325, 0.235), (2023.344, 0.329),
    (2023.366, 0.752), (2023.389, 0.486), (2023.411, 0.439), (2023.438, 0.408), (2023.456, 0.313),
    (2023.479, 0.329), (2023.501, 0.643), (2023.524, 0.627), (2023.546, 0.658), (2023.562, 0.50),
    (2023.577, 0.611), (2023.599, 0.80), (2023.618, 0.878), (2023.644, 0.893), (2023.701, 1.0),
    (2023.757, 0.987), (2023.814, 0.97), (2023.851, 0.643), (2023.881, 0.321), (2023.896, 0.925),
    (2023.915, 0.987), (2023.945, 0.995), (2023.983, 1.0), (2024.021, 1.0), (2024.058, 1.0),
    (2024.096, 0.972), (2024.134, 0.956), (2024.171, 0.909), (2024.209, 0.893), (2024.246, 0.94),
    (2024.265, 0.956), (2024.292, 0.987), (2024.314, 0.80), (2024.329, 0.643), (2024.340, 0.627),
    (2024.352, 0.36), (2024.378, 0.36), (2024.404, 0.47), (2024.427, 0.455), (2024.442, 0.50),
    (2024.461, 0.36), (2024.480, 0.329), (2024.510, 0.439), (2024.529, 0.517), (2024.547, 0.517),
    (2024.566, 0.486), (2024.585, 0.423), (2024.604, 0.329), (2024.623, 0.282), (2024.642, 0.188),
    (2024.660, 0.235), (2024.679, 0.439), (2024.698, 0.784), (2024.717, 0.596), (2024.735, 0.439),
    (2024.754, 0.674), (2024.773, 0.862), (2024.792, 0.80), (2024.811, 0.815), (2024.830, 0.643),
    (2024.848, 0.392), (2024.867, 0.80), (2024.886, 0.846), (2024.916, 0.854), (2024.931, 0.94),
    (2024.954, 0.987), (2024.999, 0.99), (2025.055, 0.99), (2025.131, 0.99), (2025.157, 0.956),
    (2025.180, 0.99), (2025.225, 1.0), (2025.281, 1.0), (2025.337, 1.0), (2025.394, 0.987),
    (2025.420, 0.643), (2025.439, 0.345), (2025.458, 0.329), (2025.480, 0.204), (2025.499, 0.125),
    (2025.518, 0.047), (2025.533, 0.016), (2025.556, 0.063), (2025.582, 0.063), (2025.620, 0.063),
    (2025.653, 0.047),
])

titles = ["government-opposition disagreement", "within-government disagreement"]
year_ticks = [2016, 2018, 2020, 2022, 2024]
y_ticks = [0, 0.2, 0.4, 0.6, 0.8, 1]
y_labels = ["0", "0.2", "0.4", "0.6", "0.8", "1"]

blue = "#0072BD"
orange = "#D95319"
dark = "#262626"

plt.rcParams["font.family"] = ["Liberation Sans", "DejaVu Sans"]
plt.rcParams["mathtext.fontset"] = "cm"

fig = plt.figure(figsize=(10.38, 5.77), dpi=100)
ax1 = fig.add_axes([0.0443, 0.5667, 0.954, 0.371])
ax2 = fig.add_axes([0.0443, 0.0537, 0.954, 0.369])

panels = [(ax1, gov_opp_f, gov_opp_fstar, titles[0]),
          (ax2, within_gov_f, within_gov_fstar, titles[1])]

for ax, f, fs, title in panels:
    ax.plot(f[:, 0], f[:, 1], color=blue, lw=3, label=r"$F(z_t)$")
    ax.plot(fs[:, 0], fs[:, 1], color=orange, lw=3, label=r"$F^{*}(z_t)$")
    ax.set_xlim(2014.465, 2025.63)
    ax.set_ylim(0, 1)
    ax.set_xticks(year_ticks)
    ax.set_xticklabels([str(y) for y in year_ticks])
    ax.set_yticks(y_ticks)
    ax.set_yticklabels(y_labels)
    ax.grid(True, color="#dcdcdc", lw=0.8)
    ax.set_axisbelow(True)
    ax.tick_params(direction="in", top=True, right=True, length=5, width=0.8,
                   labelsize=13, colors=dark)
    ax.tick_params(axis="y", pad=5.5)
    ax.tick_params(axis="x", pad=6)
    for s in ax.spines.values():
        s.set_color(dark)
        s.set_linewidth(0.8)
    ax.set_title(title, fontweight="bold", fontsize=15, pad=6, color=dark)

leg = ax1.legend(loc="upper left", bbox_to_anchor=(0.4545, 0.995), frameon=False,
                 fontsize=15, handlelength=2.4, labelspacing=0.2, handletextpad=0.4)
for line in leg.get_lines():
    line.set_linewidth(2.5)

fig.savefig("out.png", dpi=100)
print("Figure saved as out.png")
